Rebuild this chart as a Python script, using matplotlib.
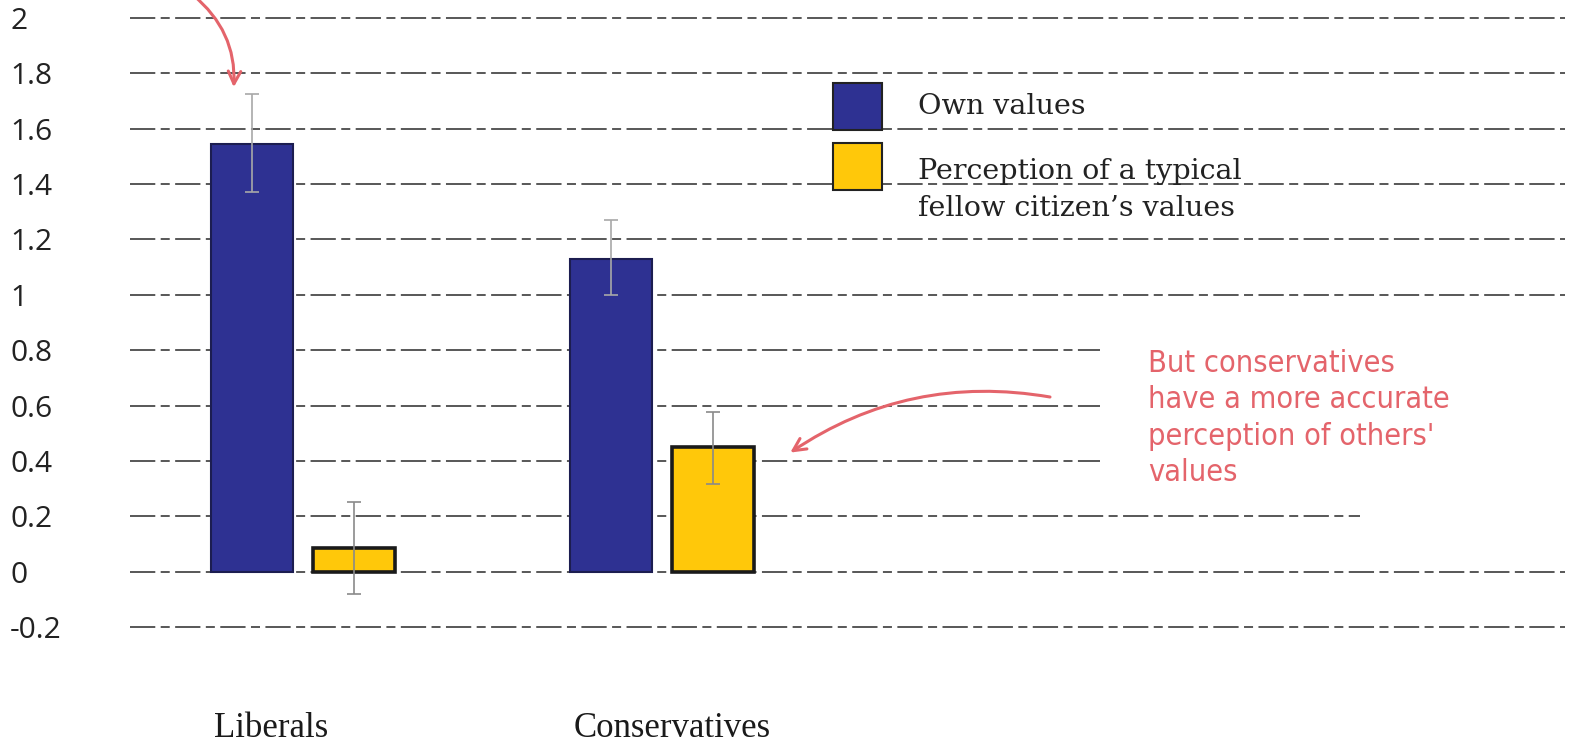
import matplotlib
matplotlib.use('Agg')
import matplotlib.pyplot as plt
from matplotlib.patches import Rectangle

# ---- data ----
categories = ['Liberals', 'Conservatives']
series_names = ['Own values', "Perception of a typical\nfellow citizen\u2019s values"]
own_values = [1.545, 1.13]
own_err_low = [1.37, 1.00]
own_err_high = [1.725, 1.27]
perc_values = [0.085, 0.45]
perc_err_low = [-0.08, 0.315]
perc_err_high = [0.25, 0.575]
ytick_values = [-0.2, 0, 0.2, 0.4, 0.6, 0.8, 1, 1.2, 1.4, 1.6, 1.8, 2]
ytick_labels = ['-0.2', '0', '0.2', '0.4', '0.6', '0.8', '1', '1.2', '1.4', '1.6', '1.8', '2']
note_text = "But conservatives\nhave a more accurate\nperception of others'\nvalues"

# ---- style ----
W, H = 1590, 751
NAVY = '#2E3192'
YELLOW = '#FFC80A'
RED = '#E4646B'
GRID = '#4a4a4a'

fig = plt.figure(figsize=(W / 100, H / 100), dpi=100)
ax = fig.add_axes([130 / W, 0, (1565 - 130) / W, 1])
ax.set_ylim(-0.648, 2.065)
ax.set_xlim(-0.482, 3.515)
for s in ax.spines.values():
    s.set_visible(False)

for v in ytick_values:
    ax.axhline(v, color=GRID, lw=1.3, dashes=(14, 3, 5, 3), zorder=0)

x = list(range(len(categories)))
offset, width = 0.143, 0.228
xo = [i - offset for i in x]
xp = [i + offset for i in x]
own_err = [[v - lo for v, lo in zip(own_values, own_err_low)],
           [hi - v for v, hi in zip(own_values, own_err_high)]]
perc_err = [[v - lo for v, lo in zip(perc_values, perc_err_low)],
            [hi - v for v, hi in zip(perc_values, perc_err_high)]]
ax.bar(xo, own_values, width, color=NAVY, edgecolor='#1c1d50', lw=1.5, zorder=2,
       yerr=own_err, error_kw=dict(ecolor='#a8a8a8', elinewidth=1.2, capsize=5, capthick=1.2))
ax.bar(xp, perc_values, width, color=YELLOW, edgecolor='#1a1a1a', lw=2.6, zorder=2,
       yerr=perc_err, error_kw=dict(ecolor='#8a8a8a', elinewidth=1.2, capsize=5, capthick=1.2))

ax.set_xticks([])
ax.set_yticks(ytick_values, ytick_labels)
ax.tick_params(axis='y', length=0, pad=120 * 0.72, labelsize=21.5, labelcolor='#222222')
for lab in ax.get_yticklabels():
    lab.set_ha('left')
    lab.set_family('Open Sans')

for i, c in enumerate(categories):
    ax.text(xo[i] - width / 2 + 0.01, -0.565, c, ha='left', va='center',
            fontsize=25, family='Liberation Serif', color='#1a1a1a')

# ---- legend (manual) ----
leg_y = [106, 166]
leg_colors = [NAVY, YELLOW]
for yc, col in zip(leg_y, leg_colors):
    fig.add_artist(Rectangle((833 / W, 1 - (yc + 23.5) / H), 49 / W, 47 / H,
                             transform=fig.transFigure, facecolor=col,
                             edgecolor='#222222', lw=1.5, zorder=3))
fig.text(918 / W, 1 - 106 / H, series_names[0], ha='left', va='center',
         fontsize=20.5, family='DejaVu Serif', color='#222222')
fig.text(918 / W, 1 - 190 / H, series_names[1], ha='left', va='center',
         fontsize=20.5, family='DejaVu Serif', color='#222222', linespacing=1.45)

# ---- annotations ----
fig.add_artist(Rectangle((1100 / W, 1 - 508 / H), 490 / W, 208 / H,
                         transform=fig.transFigure, facecolor='white',
                         edgecolor='none', zorder=2))
fig.add_artist(Rectangle((1360 / W, 1 - 535 / H), 230 / W, 30 / H,
                         transform=fig.transFigure, facecolor='white',
                         edgecolor='none', zorder=2))
fig.text(1148 / W, 1 - 418 / H, note_text, ha='left', va='center', fontsize=22,
         family='DejaVu Sans', stretch='condensed', color=RED,
         linespacing=1.32, zorder=4)

ax.annotate('', xy=(xp[1] + width / 2 + 0.1, perc_values[1] - 0.02), xycoords='data',
            xytext=(1050, H - 397), textcoords='figure pixels',
            arrowprops=dict(arrowstyle='->,head_length=0.9,head_width=0.45', color=RED,
                            lw=2.2, connectionstyle='arc3,rad=0.2', shrinkA=0, shrinkB=0),
            annotation_clip=False)
ax.annotate('', xy=(xo[0] - 0.05, own_err_high[0] + 0.025), xycoords='data',
            xytext=(193, H + 5), textcoords='figure pixels',
            arrowprops=dict(arrowstyle='->,head_length=0.9,head_width=0.45', color=RED,
                            lw=2.2, connectionstyle='arc3,rad=-0.25', shrinkA=0, shrinkB=0),
            annotation_clip=False)

fig.savefig('out.png', dpi=100)
